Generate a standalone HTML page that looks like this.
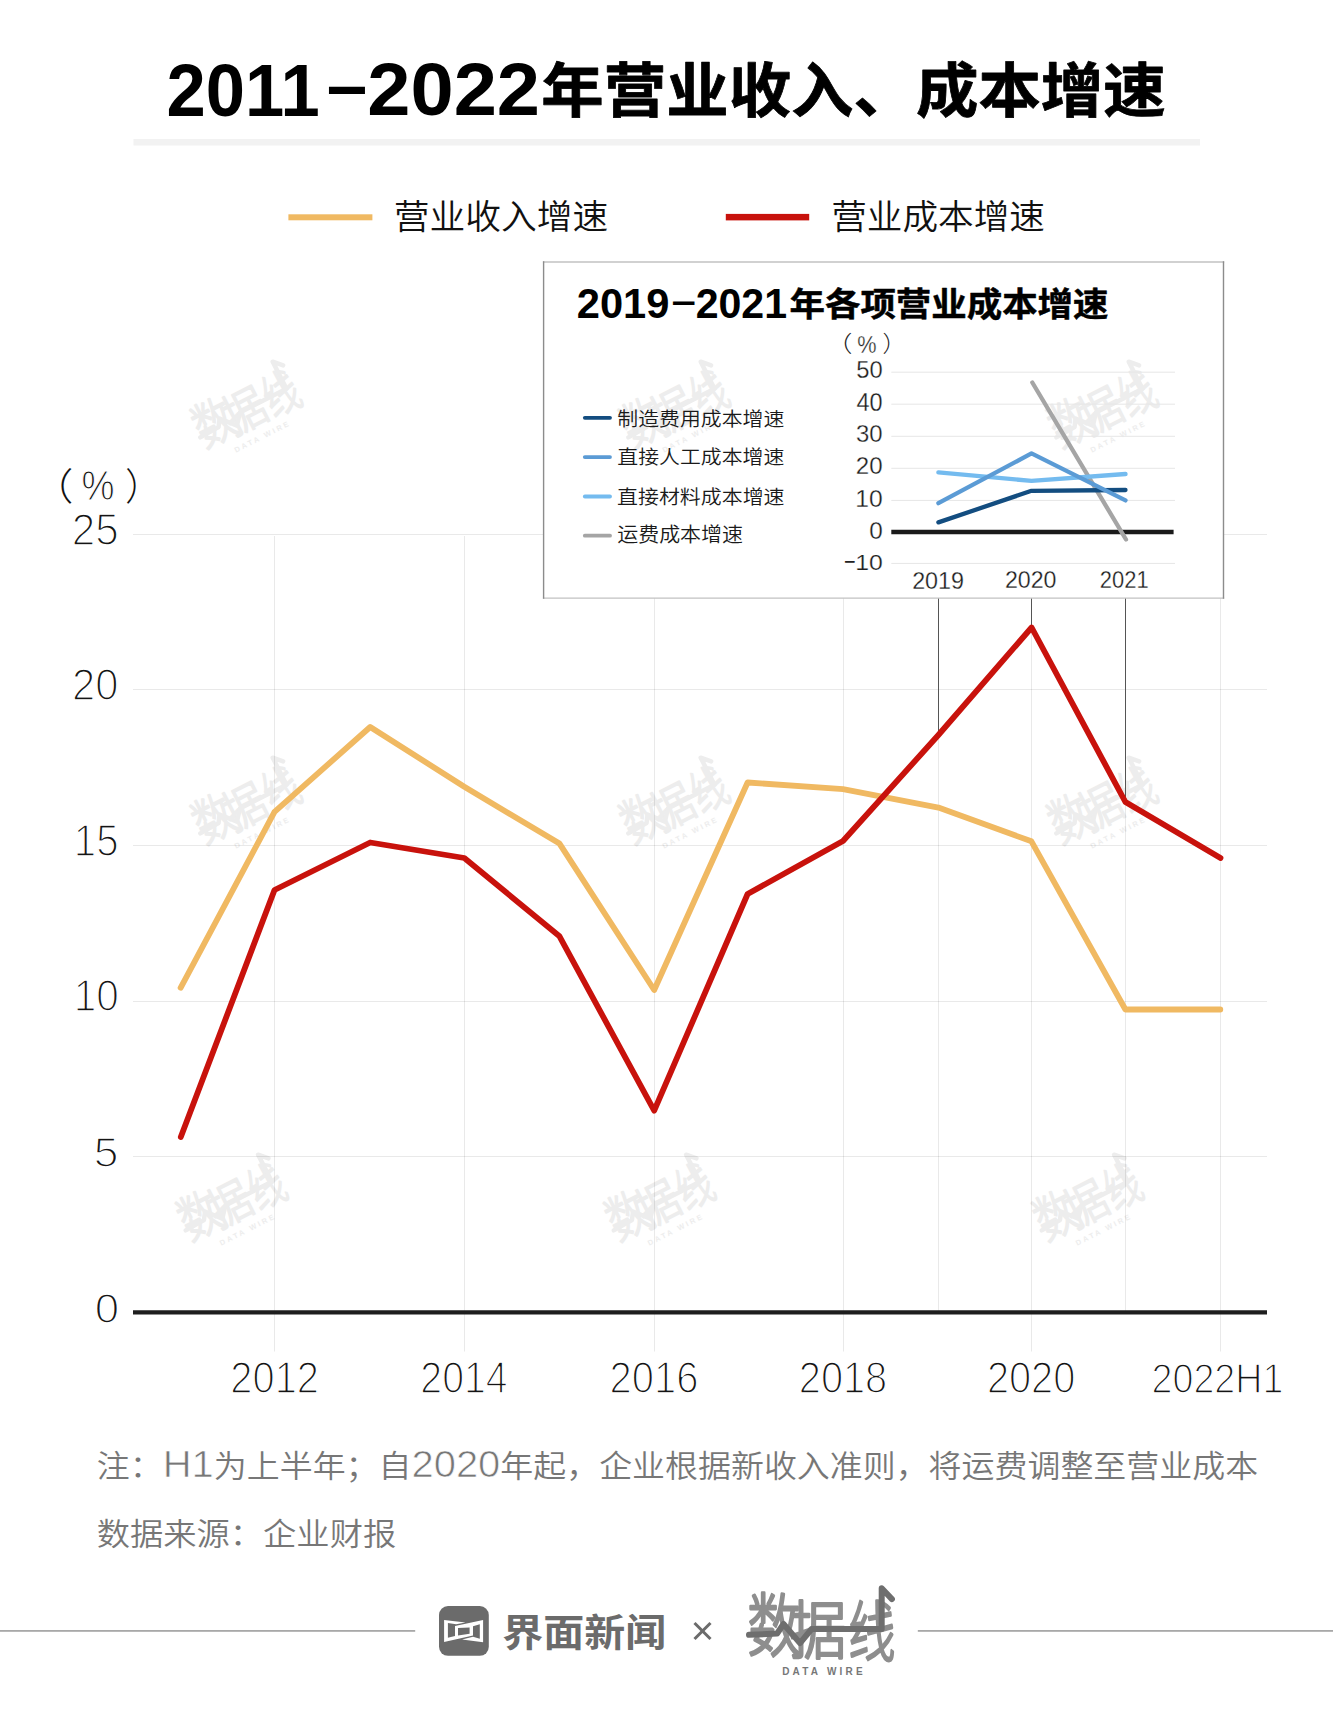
<!DOCTYPE html>
<html lang="zh-CN">
<head>
<meta charset="utf-8">
<title>2011-2022年营业收入、成本增速</title>
<style>
html,body{margin:0;padding:0;background:#fff;width:1333px;height:1713px;overflow:hidden;}
svg{display:block;}
text{font-family:"Liberation Sans","Noto Sans CJK SC",sans-serif;}
.b{font-weight:700;}
.bk{font-weight:900;}
.lt{font-weight:350;}
.num{fill:#141414;stroke:#fff;stroke-width:1.4px;paint-order:normal;}
.inum{fill:#1e1e1e;stroke:#fff;stroke-width:0.25px;}
.er{stroke:#fff;stroke-width:1.3px;}
.er1{stroke:#fff;stroke-width:0.75px;font-size:40px;font-weight:400;}
.ier{stroke:#fff;stroke-width:0.5px;}
</style>
</head>
<body>
<svg width="1333" height="1713" viewBox="0 0 1333 1713">
<rect x="0" y="0" width="1333" height="1713" fill="#fff"/>

<g id="title" fill="#000">
<text id="t2011" transform="matrix(0.92832 0 0 0.97677 9.699 2.5732)" class="b" x="169" y="115.7" font-size="76">2011</text>
<text id="tdash" transform="matrix(1.1978 0 0 1.0893 -69.58 -8.1349)" class="b" x="330" y="110" font-size="60">−</text>
<text id="t2022" transform="matrix(1.0217 0 0 0.97776 -10.739 2.0112)" class="b" x="370" y="115.7" font-size="76">2022</text>
<text id="tcjk" transform="matrix(1.0071 0 0 0.96179 -5.4832 3.729)" class="b" x="543" y="113" font-size="62" stroke="#000" stroke-width="0.8" stroke-linejoin="round">年营业收入、成本增速</text>
</g>
<rect x="133.5" y="139" width="1066.5" height="6.5" fill="#f2f2f2"/>
<rect x="288.4" y="214.3" width="84" height="6" fill="#f0b962"/>
<text id="leg1" transform="matrix(1.0217 0 0 0.98679 -10.848 3.8106)" class="lt" x="396" y="228" font-size="35" fill="#111">营业收入增速</text>
<rect x="725.8" y="213.9" width="83.4" height="6.5" fill="#c8120c"/>
<text id="leg2" transform="matrix(1.0186 0 0 0.98664 -17.7 3.5928)" class="lt" x="833.4" y="228" font-size="35" fill="#111">营业成本增速</text>
<g transform="translate(247,410) rotate(-27) scale(0.745) translate(-73.5,-44.5)"><text transform="matrix(1.0919 0 0 1.4037 -0.58353 64.466)" x="0" y="0" font-weight="300" font-size="49" fill="#ededed" stroke="#ededed" stroke-width="1.8" stroke-linejoin="round" stroke-linecap="round">数</text><text transform="matrix(1.1683 0 0 1.2827 41.251 66.829)" x="0" y="0" font-weight="300" font-size="49" fill="#ededed" stroke="#ededed" stroke-width="1.8" stroke-linejoin="round" stroke-linecap="round">据</text><text transform="matrix(0.95439 0 0 1.3424 100.46 69.899)" x="0" y="0" font-weight="300" font-size="49" fill="#ededed" stroke="#ededed" stroke-width="1.8" stroke-linejoin="round" stroke-linecap="round">线</text><polyline fill="none" stroke="#ededed" stroke-width="6" stroke-linecap="round" stroke-linejoin="round" points="1.0,48.8 29.1,47.6 35.5,38.0 52.0,57.1 63.5,43.1 133.7,43.1 133.7,2.3 143.9,13.1"/><text x="34.2" y="89.0" class="b" font-size="10" fill="#ededed" letter-spacing="3.2">DATA WIRE</text></g>
<g transform="translate(247,806) rotate(-27) scale(0.745) translate(-73.5,-44.5)"><text transform="matrix(1.0919 0 0 1.4037 -0.58353 64.466)" x="0" y="0" font-weight="300" font-size="49" fill="#ededed" stroke="#ededed" stroke-width="1.8" stroke-linejoin="round" stroke-linecap="round">数</text><text transform="matrix(1.1683 0 0 1.2827 41.251 66.829)" x="0" y="0" font-weight="300" font-size="49" fill="#ededed" stroke="#ededed" stroke-width="1.8" stroke-linejoin="round" stroke-linecap="round">据</text><text transform="matrix(0.95439 0 0 1.3424 100.46 69.899)" x="0" y="0" font-weight="300" font-size="49" fill="#ededed" stroke="#ededed" stroke-width="1.8" stroke-linejoin="round" stroke-linecap="round">线</text><polyline fill="none" stroke="#ededed" stroke-width="6" stroke-linecap="round" stroke-linejoin="round" points="1.0,48.8 29.1,47.6 35.5,38.0 52.0,57.1 63.5,43.1 133.7,43.1 133.7,2.3 143.9,13.1"/><text x="34.2" y="89.0" class="b" font-size="10" fill="#ededed" letter-spacing="3.2">DATA WIRE</text></g>
<g transform="translate(675,806) rotate(-27) scale(0.745) translate(-73.5,-44.5)"><text transform="matrix(1.0919 0 0 1.4037 -0.58353 64.466)" x="0" y="0" font-weight="300" font-size="49" fill="#ededed" stroke="#ededed" stroke-width="1.8" stroke-linejoin="round" stroke-linecap="round">数</text><text transform="matrix(1.1683 0 0 1.2827 41.251 66.829)" x="0" y="0" font-weight="300" font-size="49" fill="#ededed" stroke="#ededed" stroke-width="1.8" stroke-linejoin="round" stroke-linecap="round">据</text><text transform="matrix(0.95439 0 0 1.3424 100.46 69.899)" x="0" y="0" font-weight="300" font-size="49" fill="#ededed" stroke="#ededed" stroke-width="1.8" stroke-linejoin="round" stroke-linecap="round">线</text><polyline fill="none" stroke="#ededed" stroke-width="6" stroke-linecap="round" stroke-linejoin="round" points="1.0,48.8 29.1,47.6 35.5,38.0 52.0,57.1 63.5,43.1 133.7,43.1 133.7,2.3 143.9,13.1"/><text x="34.2" y="89.0" class="b" font-size="10" fill="#ededed" letter-spacing="3.2">DATA WIRE</text></g>
<g transform="translate(1103,806) rotate(-27) scale(0.745) translate(-73.5,-44.5)"><text transform="matrix(1.0919 0 0 1.4037 -0.58353 64.466)" x="0" y="0" font-weight="300" font-size="49" fill="#ededed" stroke="#ededed" stroke-width="1.8" stroke-linejoin="round" stroke-linecap="round">数</text><text transform="matrix(1.1683 0 0 1.2827 41.251 66.829)" x="0" y="0" font-weight="300" font-size="49" fill="#ededed" stroke="#ededed" stroke-width="1.8" stroke-linejoin="round" stroke-linecap="round">据</text><text transform="matrix(0.95439 0 0 1.3424 100.46 69.899)" x="0" y="0" font-weight="300" font-size="49" fill="#ededed" stroke="#ededed" stroke-width="1.8" stroke-linejoin="round" stroke-linecap="round">线</text><polyline fill="none" stroke="#ededed" stroke-width="6" stroke-linecap="round" stroke-linejoin="round" points="1.0,48.8 29.1,47.6 35.5,38.0 52.0,57.1 63.5,43.1 133.7,43.1 133.7,2.3 143.9,13.1"/><text x="34.2" y="89.0" class="b" font-size="10" fill="#ededed" letter-spacing="3.2">DATA WIRE</text></g>
<g transform="translate(232.4,1203) rotate(-27) scale(0.745) translate(-73.5,-44.5)"><text transform="matrix(1.0919 0 0 1.4037 -0.58353 64.466)" x="0" y="0" font-weight="300" font-size="49" fill="#ededed" stroke="#ededed" stroke-width="1.8" stroke-linejoin="round" stroke-linecap="round">数</text><text transform="matrix(1.1683 0 0 1.2827 41.251 66.829)" x="0" y="0" font-weight="300" font-size="49" fill="#ededed" stroke="#ededed" stroke-width="1.8" stroke-linejoin="round" stroke-linecap="round">据</text><text transform="matrix(0.95439 0 0 1.3424 100.46 69.899)" x="0" y="0" font-weight="300" font-size="49" fill="#ededed" stroke="#ededed" stroke-width="1.8" stroke-linejoin="round" stroke-linecap="round">线</text><polyline fill="none" stroke="#ededed" stroke-width="6" stroke-linecap="round" stroke-linejoin="round" points="1.0,48.8 29.1,47.6 35.5,38.0 52.0,57.1 63.5,43.1 133.7,43.1 133.7,2.3 143.9,13.1"/><text x="34.2" y="89.0" class="b" font-size="10" fill="#ededed" letter-spacing="3.2">DATA WIRE</text></g>
<g transform="translate(660.4,1203) rotate(-27) scale(0.745) translate(-73.5,-44.5)"><text transform="matrix(1.0919 0 0 1.4037 -0.58353 64.466)" x="0" y="0" font-weight="300" font-size="49" fill="#ededed" stroke="#ededed" stroke-width="1.8" stroke-linejoin="round" stroke-linecap="round">数</text><text transform="matrix(1.1683 0 0 1.2827 41.251 66.829)" x="0" y="0" font-weight="300" font-size="49" fill="#ededed" stroke="#ededed" stroke-width="1.8" stroke-linejoin="round" stroke-linecap="round">据</text><text transform="matrix(0.95439 0 0 1.3424 100.46 69.899)" x="0" y="0" font-weight="300" font-size="49" fill="#ededed" stroke="#ededed" stroke-width="1.8" stroke-linejoin="round" stroke-linecap="round">线</text><polyline fill="none" stroke="#ededed" stroke-width="6" stroke-linecap="round" stroke-linejoin="round" points="1.0,48.8 29.1,47.6 35.5,38.0 52.0,57.1 63.5,43.1 133.7,43.1 133.7,2.3 143.9,13.1"/><text x="34.2" y="89.0" class="b" font-size="10" fill="#ededed" letter-spacing="3.2">DATA WIRE</text></g>
<g transform="translate(1088.4,1203) rotate(-27) scale(0.745) translate(-73.5,-44.5)"><text transform="matrix(1.0919 0 0 1.4037 -0.58353 64.466)" x="0" y="0" font-weight="300" font-size="49" fill="#ededed" stroke="#ededed" stroke-width="1.8" stroke-linejoin="round" stroke-linecap="round">数</text><text transform="matrix(1.1683 0 0 1.2827 41.251 66.829)" x="0" y="0" font-weight="300" font-size="49" fill="#ededed" stroke="#ededed" stroke-width="1.8" stroke-linejoin="round" stroke-linecap="round">据</text><text transform="matrix(0.95439 0 0 1.3424 100.46 69.899)" x="0" y="0" font-weight="300" font-size="49" fill="#ededed" stroke="#ededed" stroke-width="1.8" stroke-linejoin="round" stroke-linecap="round">线</text><polyline fill="none" stroke="#ededed" stroke-width="6" stroke-linecap="round" stroke-linejoin="round" points="1.0,48.8 29.1,47.6 35.5,38.0 52.0,57.1 63.5,43.1 133.7,43.1 133.7,2.3 143.9,13.1"/><text x="34.2" y="89.0" class="b" font-size="10" fill="#ededed" letter-spacing="3.2">DATA WIRE</text></g>
<g stroke="#000" stroke-opacity="0.085" stroke-width="1">
<line x1="133" y1="534.5" x2="1267" y2="534.5"/>
<line x1="133" y1="689.5" x2="1267" y2="689.5"/>
<line x1="133" y1="845.5" x2="1267" y2="845.5"/>
<line x1="133" y1="1001.5" x2="1267" y2="1001.5"/>
<line x1="133" y1="1156.5" x2="1267" y2="1156.5"/>
<line x1="274.5" y1="536" x2="274.5" y2="1351.5"/>
<line x1="464.5" y1="536" x2="464.5" y2="1351.5"/>
<line x1="654.5" y1="536" x2="654.5" y2="1351.5"/>
<line x1="843.5" y1="536" x2="843.5" y2="1351.5"/>
<line x1="1031.5" y1="536" x2="1031.5" y2="1351.5"/>
<line x1="1220.5" y1="536" x2="1220.5" y2="1351.5"/>
<line x1="938.5" y1="598" x2="938.5" y2="1311"/>
<line x1="1125.5" y1="598" x2="1125.5" y2="1311"/>
</g>
<g stroke="#555" stroke-width="1">
<line x1="938.5" y1="598" x2="938.5" y2="735"/>
<line x1="1031.5" y1="598" x2="1031.5" y2="627"/>
<line x1="1125.5" y1="598" x2="1125.5" y2="802"/>
</g>
<line x1="133" y1="1312.4" x2="1267" y2="1312.4" stroke="#1e1e1e" stroke-width="4.3"/>
<text id="y25" transform="matrix(1.0828 0 0 1.1162 -7.3211 -62.156)" class="num" x="116.5" y="543.6" font-size="39" text-anchor="end">25</text>
<text id="y20" transform="matrix(1.0691 0 0 1.1253 -6.1292 -86.728)" class="num" x="116.5" y="699.3" font-size="39" text-anchor="end">20</text>
<text id="y15" transform="matrix(1.0304 0 0 1.1211 -1.4927 -102.56)" class="num" x="116.5" y="855.3" font-size="39" text-anchor="end">15</text>
<text id="y10" transform="matrix(1.0406 0 0 1.122 -2.2834 -122.51)" class="num" x="116.5" y="1010.6" font-size="39" text-anchor="end">10</text>
<text id="y5" transform="matrix(1.139 0 0 1.0998 -14.11 -115.3)" class="num" x="116.5" y="1166.3" font-size="39" text-anchor="end">5</text>
<text id="y0" transform="matrix(1.1265 0 0 1.1017 -12.13 -133.45)" class="num" x="116.5" y="1322.4" font-size="39" text-anchor="end">0</text>
<g fill="#111" font-size="36" font-weight="300">
<text id="pl" transform="matrix(1.1481 0 0 1.0474 -13.938 -23.927)" x="40" y="500" style="font-family:'Liberation Sans','Noto Sans CJK SC',sans-serif">（</text>
<text id="pc" transform="matrix(1.031 0 0 1.1935 -4.0123 -96.434)" x="83" y="500" font-weight="400" stroke="#fff" stroke-width="0.9">%</text>
<text id="pr" transform="matrix(1 0 0 1.0466 -0.80398 -23.643)" x="126" y="500" style="font-family:'Liberation Sans','Noto Sans CJK SC',sans-serif">）</text>
</g>
<text id="x2012" transform="matrix(1.0217 0 0 1.1261 -5.7682 -175.03)" class="num" x="274.5" y="1392.8" font-size="39" text-anchor="middle">2012</text>
<text id="x2014" transform="matrix(1.0059 0 0 1.1259 -3.053 -174.69)" class="num" x="464.3" y="1392.8" font-size="39" text-anchor="middle">2014</text>
<text id="x2016" transform="matrix(1.024 0 0 1.1274 -15.902 -176.77)" class="num" x="654.2" y="1392.8" font-size="39" text-anchor="middle">2016</text>
<text id="x2018" transform="matrix(1.0198 0 0 1.1269 -16.989 -176.08)" class="num" x="843.3" y="1392.8" font-size="39" text-anchor="middle">2018</text>
<text id="x2020" transform="matrix(1.0193 0 0 1.1336 -20.206 -185.48)" class="num" x="1031.4" y="1392.8" font-size="39" text-anchor="middle">2020</text>
<text id="x2022" transform="matrix(0.96534 0 0 1.0933 41.694 -129.65)" class="num" x="1218" y="1392.8" font-size="39" text-anchor="middle">2022H1</text>
<polyline fill="none" stroke="#f0b962" stroke-width="5.8" stroke-linejoin="round" stroke-linecap="round" points="180.6,987.8 274.5,811.9 370.2,727 464.3,786.7 559.5,843.6 654.2,990 747.6,782.5 843,789.2 938.4,807.6 1031.4,841.3 1125.4,1009.5 1220.3,1009.5"/>
<polyline fill="none" stroke="#c8120c" stroke-width="5.8" stroke-linejoin="round" stroke-linecap="round" points="180.8,1137 274.5,890 370.2,842.5 464.3,858 559.5,936.3 654.2,1110.7 747.6,894 843,841 938.4,735 1031.6,627.5 1125.4,802 1220.5,858"/>
<rect x="543.6" y="262" width="679.9" height="336.1" fill="#fff"/>
<g stroke-width="1.4"><line x1="542.9" y1="262" x2="1224.2" y2="262" stroke="#c2c2c2"/><line x1="542.9" y1="598.1" x2="1224.2" y2="598.1" stroke="#c2c2c2"/><line x1="543.6" y1="261.3" x2="543.6" y2="598.8" stroke="#8c8c8c"/><line x1="1223.5" y1="261.3" x2="1223.5" y2="598.8" stroke="#8c8c8c"/></g>
<g transform="translate(675,410) rotate(-27) scale(0.745) translate(-73.5,-44.5)"><text transform="matrix(1.0919 0 0 1.4037 -0.58353 64.466)" x="0" y="0" font-weight="300" font-size="49" fill="#ededed" stroke="#ededed" stroke-width="1.8" stroke-linejoin="round" stroke-linecap="round">数</text><text transform="matrix(1.1683 0 0 1.2827 41.251 66.829)" x="0" y="0" font-weight="300" font-size="49" fill="#ededed" stroke="#ededed" stroke-width="1.8" stroke-linejoin="round" stroke-linecap="round">据</text><text transform="matrix(0.95439 0 0 1.3424 100.46 69.899)" x="0" y="0" font-weight="300" font-size="49" fill="#ededed" stroke="#ededed" stroke-width="1.8" stroke-linejoin="round" stroke-linecap="round">线</text><polyline fill="none" stroke="#ededed" stroke-width="6" stroke-linecap="round" stroke-linejoin="round" points="1.0,48.8 29.1,47.6 35.5,38.0 52.0,57.1 63.5,43.1 133.7,43.1 133.7,2.3 143.9,13.1"/><text x="34.2" y="89.0" class="b" font-size="10" fill="#ededed" letter-spacing="3.2">DATA WIRE</text></g>
<g transform="translate(1103,410) rotate(-27) scale(0.745) translate(-73.5,-44.5)"><text transform="matrix(1.0919 0 0 1.4037 -0.58353 64.466)" x="0" y="0" font-weight="300" font-size="49" fill="#ededed" stroke="#ededed" stroke-width="1.8" stroke-linejoin="round" stroke-linecap="round">数</text><text transform="matrix(1.1683 0 0 1.2827 41.251 66.829)" x="0" y="0" font-weight="300" font-size="49" fill="#ededed" stroke="#ededed" stroke-width="1.8" stroke-linejoin="round" stroke-linecap="round">据</text><text transform="matrix(0.95439 0 0 1.3424 100.46 69.899)" x="0" y="0" font-weight="300" font-size="49" fill="#ededed" stroke="#ededed" stroke-width="1.8" stroke-linejoin="round" stroke-linecap="round">线</text><polyline fill="none" stroke="#ededed" stroke-width="6" stroke-linecap="round" stroke-linejoin="round" points="1.0,48.8 29.1,47.6 35.5,38.0 52.0,57.1 63.5,43.1 133.7,43.1 133.7,2.3 143.9,13.1"/><text x="34.2" y="89.0" class="b" font-size="10" fill="#ededed" letter-spacing="3.2">DATA WIRE</text></g>
<g fill="#000">
<text id="i2019" transform="matrix(1.0415 0 0 1.0601 -25.26 -18.989)" class="b" x="578" y="318.2" font-size="40">2019</text>
<text id="idash" transform="matrix(1.1916 0 0 0.90937 -129.79 27.363)" class="b" x="672" y="315" font-size="36">−</text>
<text id="i2021" transform="matrix(1.0275 0 0 1.0601 -20.499 -18.989)" class="b" x="697" y="318.2" font-size="40">2021</text>
<text id="icjk" transform="matrix(1.007 0 0 0.93724 -6.5902 19.143)" class="b" x="790.6" y="317" font-size="35.2" stroke="#000" stroke-width="0.5" stroke-linejoin="round">年各项营业成本增速</text>
</g>
<g fill="#222" font-size="21" font-weight="300">
<text id="ipl" transform="matrix(1.2713 0 0 1.0749 -234.53 -26.08)" x="834" y="352" style="font-family:'Liberation Sans','Noto Sans CJK SC',sans-serif">（</text>
<text id="ipc" transform="matrix(1.0323 0 0 1.181 -28.377 -63.066)" x="858" y="352" font-weight="400" stroke="#fff" stroke-width="0.3">%</text>
<text id="ipr" transform="matrix(1.1246 0 0 1.0739 -110.4 -26.06)" x="883" y="352" style="font-family:'Liberation Sans','Noto Sans CJK SC',sans-serif">）</text>
</g>
<g stroke="#e6e6e6" stroke-width="1">
<line x1="891.3" y1="372.2" x2="1175" y2="372.2"/>
<line x1="891.3" y1="404.2" x2="1175" y2="404.2"/>
<line x1="891.3" y1="436.3" x2="1175" y2="436.3"/>
<line x1="891.3" y1="468.3" x2="1175" y2="468.3"/>
<line x1="891.3" y1="500.4" x2="1175" y2="500.4"/>
<line x1="891.3" y1="563.4" x2="1175" y2="563.4"/>
</g>
<line x1="891.3" y1="532" x2="1173.6" y2="532" stroke="#1a1a1a" stroke-width="4.3"/>
<text id="iy50" transform="matrix(1.0329 0 0 1.0666 -28.063 -24.765)" class="inum" x="881.7" y="378" font-size="23" text-anchor="end" fill="#222">50</text>
<text id="iy40" transform="matrix(1.0218 0 0 1.0823 -18.266 -33.384)" class="inum" x="881.7" y="410.2" font-size="23" text-anchor="end" fill="#222">40</text>
<text id="iy30" transform="matrix(1.041 0 0 1.0715 -35.244 -31.396)" class="inum" x="881.7" y="442" font-size="23" text-anchor="end" fill="#222">30</text>
<text id="iy20" transform="matrix(1.0477 0 0 1.0026 -41.089 -0.87125)" class="inum" x="881.7" y="473.8" font-size="23" text-anchor="end" fill="#222">20</text>
<text id="iy10" transform="matrix(1.0721 0 0 1.0018 -62.604 -0.36128)" class="inum" x="881.7" y="506" font-size="23" text-anchor="end" fill="#222">10</text>
<text id="iy0" transform="matrix(1.0567 0 0 1.0061 -48.977 -2.652)" class="inum" x="881.7" y="537.9" font-size="23" text-anchor="end" fill="#222">0</text>
<text id="iym10" transform="matrix(1.0789 0 0 0.99366 -68.516 3.7433)" class="inum" x="881.7" y="569.8" font-size="23" text-anchor="end" fill="#222">10</text>
<text id="ix2019" transform="matrix(1.0143 0 0 1.0171 -13.729 -9.788)" class="inum" x="938.4" y="588.4" font-size="23" text-anchor="middle" fill="#222">2019</text>
<text id="ix2020" transform="matrix(1.0084 0 0 1.0147 -9.1095 -9.0542)" class="inum" x="1031.2" y="588.4" font-size="23" text-anchor="middle" fill="#222">2020</text>
<text id="ix2021" transform="matrix(0.95397 0 0 1.0125 51.612 -7.7793)" class="inum" x="1124.4" y="588.4" font-size="23" text-anchor="middle" fill="#222">2021</text>
<text id="iym" transform="matrix(0.9005 0 0 1.1048 84.078 -58.743)" x="844" y="569" font-size="22" fill="#222">−</text>
<g fill="none" stroke-width="4.3" stroke-linejoin="round" stroke-linecap="round">
<polyline stroke="#a5a5a5" points="1032.3,382.5 1126,539.5"/>
<polyline stroke="#74bbef" points="938.4,472.3 1031.5,480.9 1125.5,474"/>
<polyline stroke="#134d80" points="938.4,522.4 1031.5,490.8 1125.5,490"/>
<polyline stroke="#5b9bd5" points="938.4,503.2 1031.5,453.4 1125.5,500.4"/>
</g>
<g stroke-width="3.8" stroke-linecap="round">
<line x1="584.8" y1="417.8" x2="610" y2="417.8" stroke="#134d80"/>
<line x1="584.8" y1="457.1" x2="610" y2="457.1" stroke="#5b9bd5"/>
<line x1="584.8" y1="496.5" x2="610" y2="496.5" stroke="#74bbef"/>
<line x1="584.8" y1="535.7" x2="610" y2="535.7" stroke="#a5a5a5"/>
</g>
<g class="lt" font-size="20.6" fill="#1a1a1a">
<text id="il1" transform="matrix(1.0133 0 0 0.91437 -8.8621 36.593)" x="618" y="426">制造费用成本增速</text>
<text id="il2" transform="matrix(1.0132 0 0 0.91385 -8.8404 38.985)" x="618" y="465">直接人工成本增速</text>
<text id="il3" transform="matrix(1.0169 0 0 0.95015 -11.403 24.772)" x="618" y="504">直接材料成本增速</text>
<text id="il4" transform="matrix(1.0186 0 0 0.96762 -12.302 16.943)" x="618" y="543">运费成本增速</text>
</g>
<g class="lt" font-size="33" fill="#777">
<text id="n1" transform="matrix(0.99867 0 0 0.94531 0.010113 78.408)" x="97" y="1480">注：<tspan class="er1">H1</tspan>为上半年；自<tspan class="er1">2020</tspan>年起，企业根据新收入准则，将运费调整至营业成本</text>
<text id="n2" transform="matrix(1.0089 0 0 0.94531 -1.1916 84.303)" x="97" y="1545">数据来源：企业财报</text>
</g>
<rect x="0" y="1630" width="415.2" height="1.8" fill="#a8a8a8"/>
<rect x="917.8" y="1630" width="415.2" height="1.8" fill="#a8a8a8"/>
<rect x="439" y="1606" width="49.8" height="49.8" rx="9" fill="#6b6b6b"/>
<g fill="#fff">
<path d="M444.1,1620.1 L465.5,1622.5 L456.1,1624.2 L447.9,1623.1 L447.9,1637.7 L455,1636 L455,1626.1 L483.1,1619.9 L483.1,1642.2 L462.1,1639.6 L473,1636.8 L479.8,1638.8 L479.8,1624.2 L473,1626.3 L473,1635.4 L444.1,1642 Z"/>
</g>
<path d="M458,1628.1 L469.6,1627.4 L469.6,1633.8 L458,1635.4 Z" fill="#6b6b6b"/>
<text id="jm" transform="matrix(1.0251 0 0 0.94763 -13.326 87.076)" class="b" x="503" y="1645" font-size="40" fill="#6b6b6b">界面新闻</text>
<g stroke="#6b6b6b" stroke-width="3"><line x1="694.5" y1="1623" x2="710.5" y2="1639"/><line x1="710.5" y1="1623" x2="694.5" y2="1639"/></g>
<g><text id="lg1" transform="matrix(1.0919 0 0 1.4037 747.42 1650.5)" x="0" y="0" font-weight="300" font-size="49" fill="#8e8e8e" stroke="#8e8e8e" stroke-width="2.0" stroke-linejoin="round" stroke-linecap="round">数</text><text id="lg2" transform="matrix(1.1683 0 0 1.2827 789.25 1652.8)" x="0" y="0" font-weight="300" font-size="49" fill="#8e8e8e" stroke="#8e8e8e" stroke-width="2.0" stroke-linejoin="round" stroke-linecap="round">据</text><text id="lg3" transform="matrix(0.95439 0 0 1.3424 848.46 1655.9)" x="0" y="0" font-weight="300" font-size="49" fill="#8e8e8e" stroke="#8e8e8e" stroke-width="2.0" stroke-linejoin="round" stroke-linecap="round">线</text><polyline fill="none" stroke="#6e6e6e" stroke-width="6" stroke-linecap="round" stroke-linejoin="round" points="749.0,1634.8 777.1,1633.6 783.5,1624.0 800.0,1643.1 811.5,1629.1 881.7,1629.1 881.7,1588.3 891.9,1599.1"/><text x="782.2" y="1675.0" class="b" font-size="10" fill="#777" letter-spacing="3.2">DATA WIRE</text></g>
</svg>
</body>
</html>
